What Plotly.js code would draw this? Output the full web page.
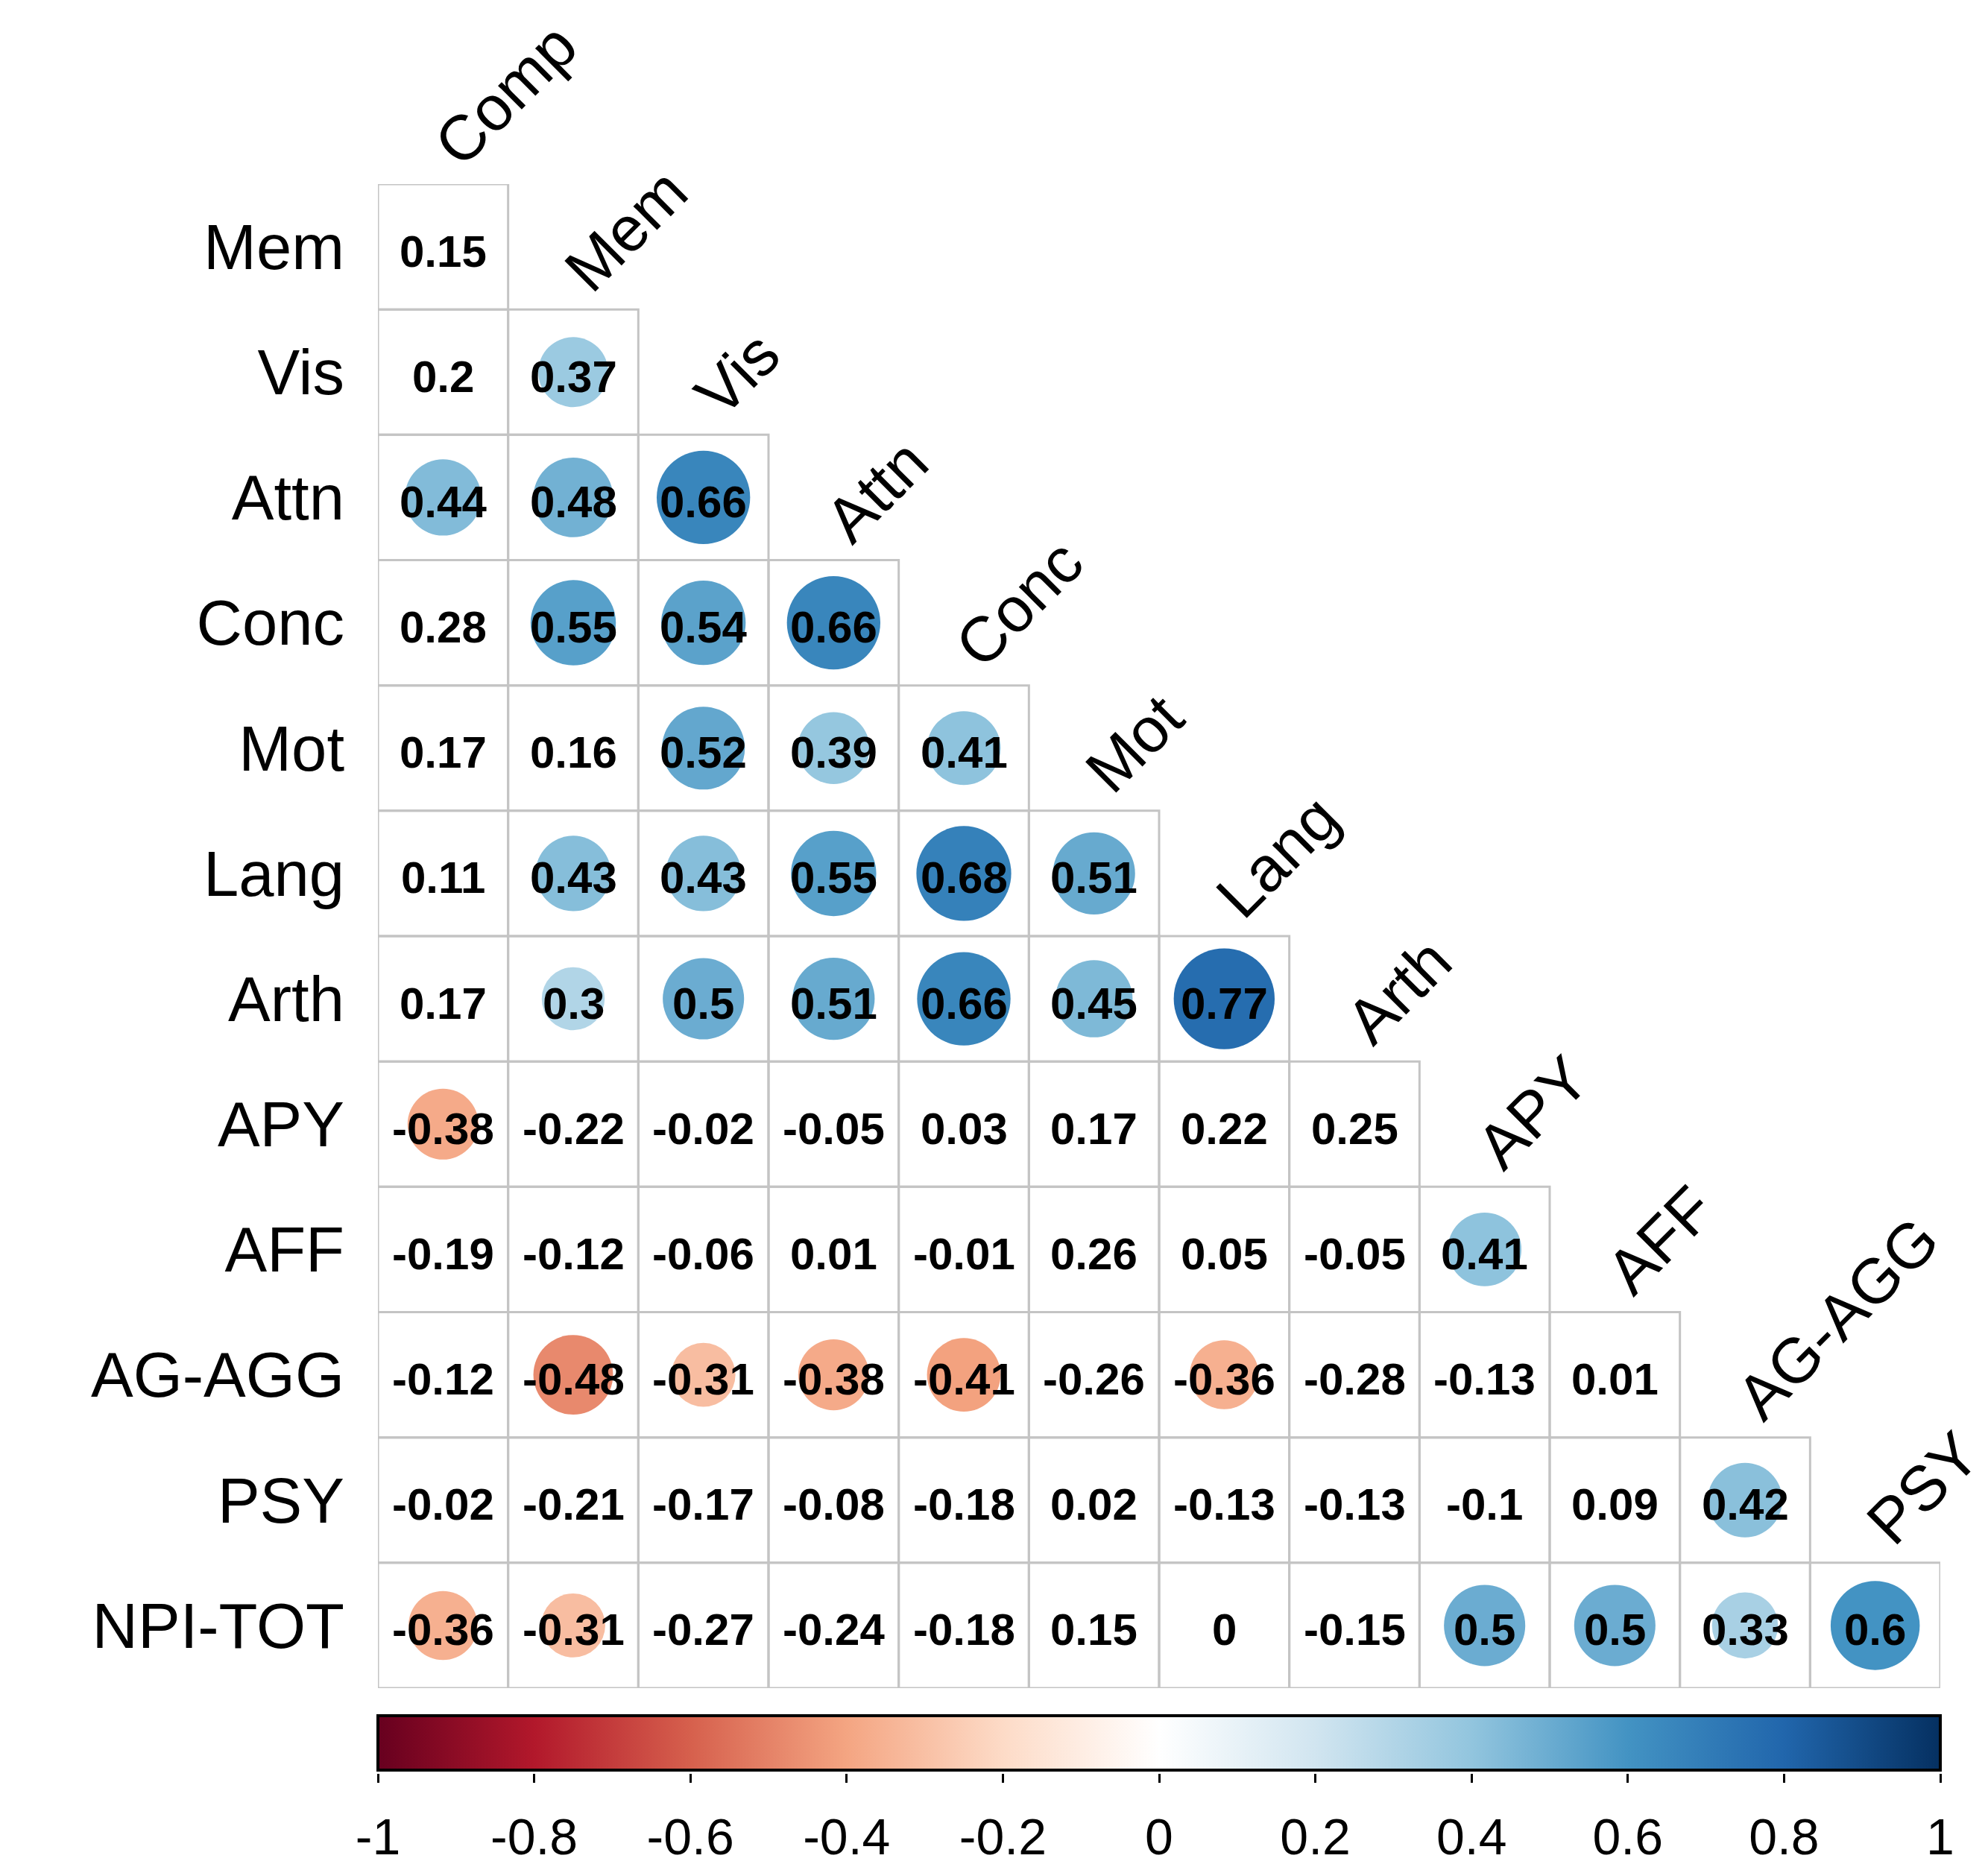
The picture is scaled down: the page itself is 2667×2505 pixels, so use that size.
<!DOCTYPE html>
<html>
<head>
<meta charset="utf-8">
<script src="https://cdn.plot.ly/plotly-3.0.1.min.js"></script>
<style>html,body{margin:0;padding:0;background:#fff;}</style>
</head>
<body>
<div id="chart" style="width:2667px;height:2505px;"></div>
<script>
// ---- data ----
const rowLabels = ['Mem','Vis','Attn','Conc','Mot','Lang','Arth','APY','AFF','AG-AGG','PSY','NPI-TOT'];
const colLabels = ['Comp','Mem','Vis','Attn','Conc','Mot','Lang','Arth','APY','AFF','AG-AGG','PSY'];
const corrMem    = [0.15];
const corrVis    = [0.2, 0.37];
const corrAttn   = [0.44, 0.48, 0.66];
const corrConc   = [0.28, 0.55, 0.54, 0.66];
const corrMot    = [0.17, 0.16, 0.52, 0.39, 0.41];
const corrLang   = [0.11, 0.43, 0.43, 0.55, 0.68, 0.51];
const corrArth   = [0.17, 0.3, 0.5, 0.51, 0.66, 0.45, 0.77];
const corrAPY    = [-0.38, -0.22, -0.02, -0.05, 0.03, 0.17, 0.22, 0.25];
const corrAFF    = [-0.19, -0.12, -0.06, 0.01, -0.01, 0.26, 0.05, -0.05, 0.41];
const corrAGAGG  = [-0.12, -0.48, -0.31, -0.38, -0.41, -0.26, -0.36, -0.28, -0.13, 0.01];
const corrPSY    = [-0.02, -0.21, -0.17, -0.08, -0.18, 0.02, -0.13, -0.13, -0.1, 0.09, 0.42];
const corrNPITOT = [-0.36, -0.31, -0.27, -0.24, -0.18, 0.15, 0, -0.15, 0.5, 0.5, 0.33, 0.6];
// 1 = significant (circle drawn), 0 = not significant
const sigMem    = [0];
const sigVis    = [0,1];
const sigAttn   = [1,1,1];
const sigConc   = [0,1,1,1];
const sigMot    = [0,0,1,1,1];
const sigLang   = [0,1,1,1,1,1];
const sigArth   = [0,1,1,1,1,1,1];
const sigAPY    = [1,0,0,0,0,0,0,0];
const sigAFF    = [0,0,0,0,0,0,0,0,1];
const sigAGAGG  = [0,1,1,1,1,0,1,0,0,0];
const sigPSY    = [0,0,0,0,0,0,0,0,0,0,1];
const sigNPITOT = [1,1,0,0,0,0,0,0,1,1,1,1];
const colorbarTicks = [-1,-0.8,-0.6,-0.4,-0.2,0,0.2,0.4,0.6,0.8,1];
const colorbarTickText = ['-1','-0.8','-0.6','-0.4','-0.2','0','0.2','0.4','0.6','0.8','1'];

const corrRows = [corrMem,corrVis,corrAttn,corrConc,corrMot,corrLang,corrArth,corrAPY,corrAFF,corrAGAGG,corrPSY,corrNPITOT];
const sigRows  = [sigMem,sigVis,sigAttn,sigConc,sigMot,sigLang,sigArth,sigAPY,sigAFF,sigAGAGG,sigPSY,sigNPITOT];

// ---- styling ----
const FONT = 'Liberation Sans, Arial, sans-serif';
const W = 2667, H = 2505;
const M = {l:507, r:64, t:247, b:126};
const plotH = H - M.t - M.b;
const gridBottomFrac = (H - M.b - 2265) / plotH;
const cbFrac = 77 / plotH;
const n = rowLabels.length;
const cellPx = ((2603-507)/n + (2265-247)/n) / 2;

const RdBu = [
  [0.0,'#67001F'],[0.1,'#B2182B'],[0.2,'#D6604D'],[0.3,'#F4A582'],[0.4,'#FDDBC7'],
  [0.5,'#FFFFFF'],[0.6,'#D1E5F0'],[0.7,'#92C5DE'],[0.8,'#4393C3'],[0.9,'#2166AC'],[1.0,'#053061']
];

const cx=[], cy=[], cv=[];
const shapes = [];
const annotations = [];
corrRows.forEach((row, i) => {
  row.forEach((v, j) => {
    const x = j + 1, y = n - i;
    annotations.push({text:String(v), xref:'x', yref:'y', x:x, y:y, showarrow:false,
      xanchor:'center', yanchor:'middle', yshift:-6,
      font:{family:FONT, size:60, color:'#000', weight:'bold'}});
    if (sigRows[i][j]) { cx.push(x); cy.push(y); cv.push(v); }
    shapes.push({type:'rect', xref:'x', yref:'y', x0:x-0.5, x1:x+0.5, y0:y-0.5, y1:y+0.5,
      line:{color:'#C4C4C4', width:3}, fillcolor:'rgba(0,0,0,0)', layer:'below'});
  });
});

const circles = {
  type:'scatter', mode:'markers', x:cx, y:cy, xaxis:'x', yaxis:'y', hoverinfo:'skip',
  marker:{
    color:cv, cmin:-1, cmax:1, colorscale:RdBu,
    size:cv.map(v => 0.9*Math.sqrt(Math.abs(v))*cellPx),
    line:{width:0}, opacity:1,
    showscale:true,
    colorbar:{orientation:'h', x:0.5, xanchor:'center', xref:'paper', y:0, yanchor:'bottom', yref:'paper',
      len:1, lenmode:'fraction', thickness:73, thicknessmode:'pixels', xpad:0, ypad:0,
      outlinecolor:'#000', outlinewidth:4, ticks:'', showticklabels:false, tickvals:colorbarTicks}
  }
};
const dummy = {type:'scatter', mode:'markers', x:[], y:[], xaxis:'x2', yaxis:'y2', hoverinfo:'skip', showlegend:false};

colLabels.forEach((c, j) => annotations.push({
  text:c, xref:'x', yref:'y', x:j+1, y:n-j+0.5, showarrow:false,
  textangle:-45, xanchor:'left', yanchor:'bottom', xshift:-31, yshift:5, borderpad:0,
  font:{family:FONT, size:85, color:'#000'}
}));

const layout = {
  width:W, height:H, margin:M, showlegend:false,
  paper_bgcolor:'#fff', plot_bgcolor:'rgba(0,0,0,0)',
  xaxis:{domain:[0,1], range:[0.5,n+0.5], showgrid:false, zeroline:false, showline:false,
    showticklabels:false, ticks:'', fixedrange:true},
  yaxis:{domain:[gridBottomFrac,1], range:[0.5,n+0.5], showgrid:false, zeroline:false, showline:false,
    tickvals:rowLabels.map((r,i)=>n-i), ticktext:rowLabels, ticks:'', ticklabelstandoff:44,
    tickfont:{family:FONT, size:85, color:'#000'}, fixedrange:true},
  xaxis2:{anchor:'y2', domain:[0,1], range:[-1,1], showgrid:false, zeroline:false, showline:false,
    tickvals:colorbarTicks, ticktext:colorbarTickText, ticks:'outside', ticklen:12, tickwidth:3, tickcolor:'#000',
    ticklabelstandoff:14, tickfont:{family:FONT, size:68, color:'#000'}, fixedrange:true},
  yaxis2:{anchor:'x2', domain:[0,cbFrac], range:[0,1], visible:false, fixedrange:true},
  shapes:shapes,
  annotations:annotations
};

Plotly.newPlot('chart', [circles, dummy], layout, {staticPlot:true, displayModeBar:false});
</script>
</body>
</html>
